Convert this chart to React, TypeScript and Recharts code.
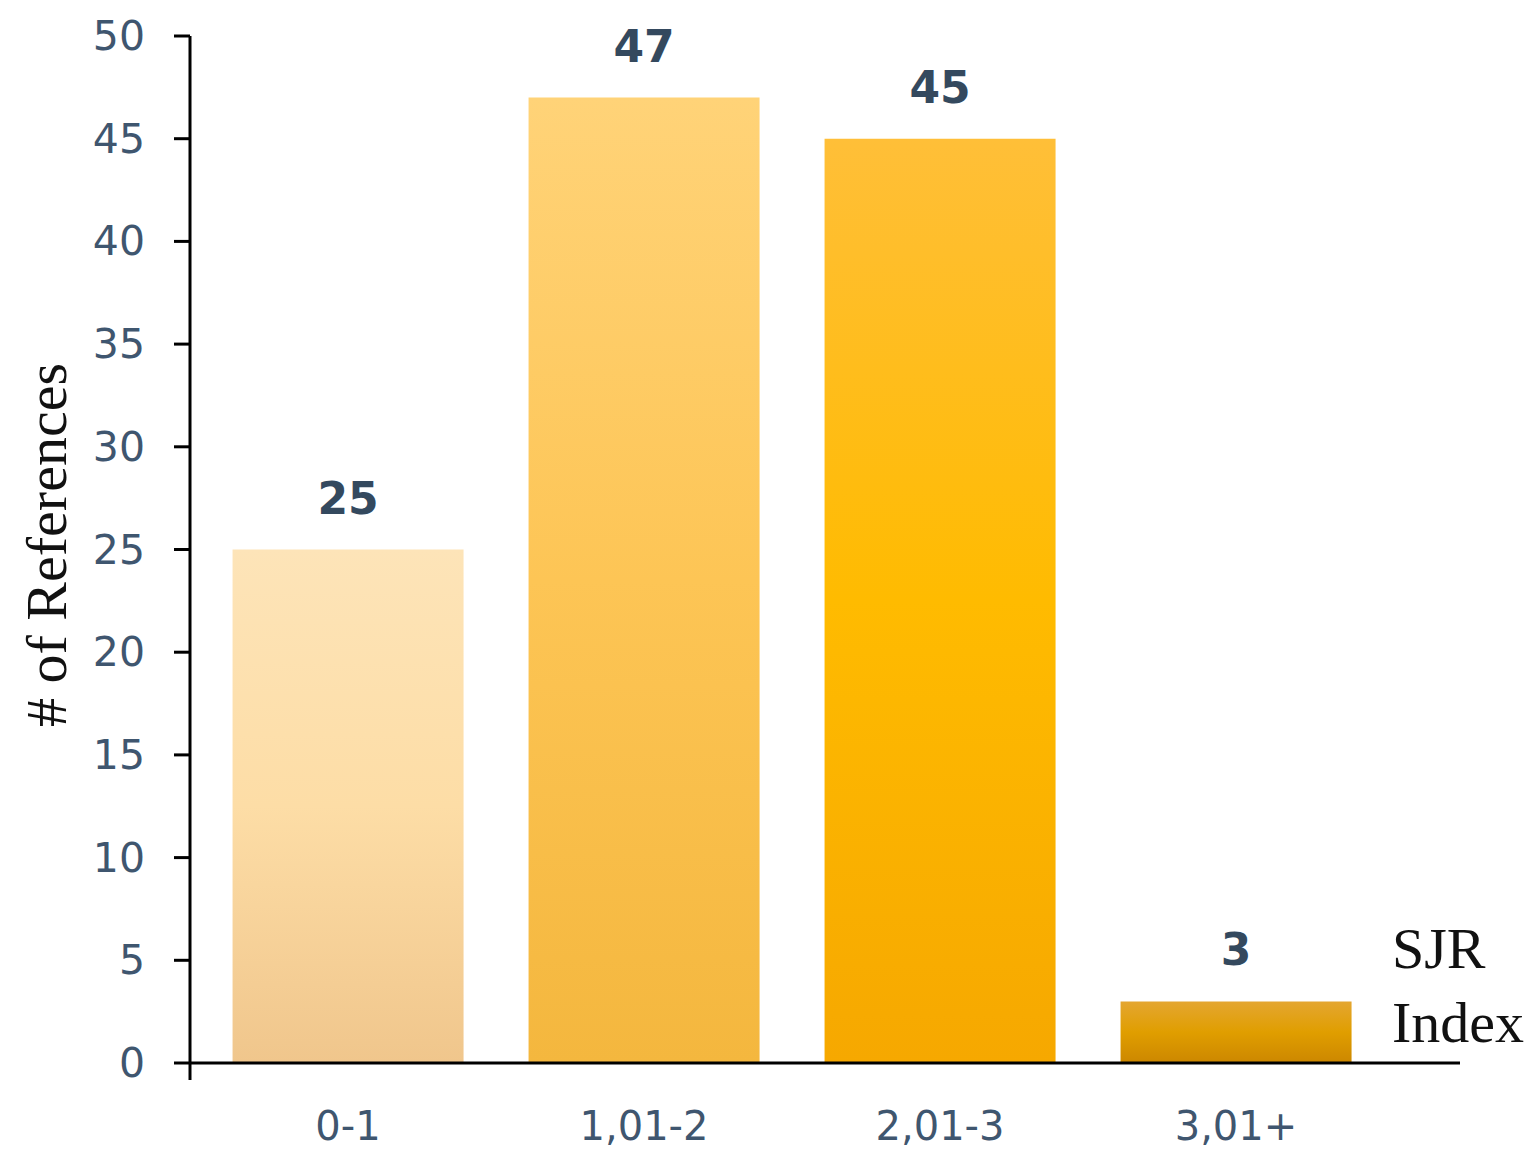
import { BarChart, Bar, XAxis, YAxis, Cell, LabelList } from 'recharts';

const categories = ['0-1', '1,01-2', '2,01-3', '3,01+'];
const references = [25, 47, 45, 3];
const yTicks = [0, 5, 10, 15, 20, 25, 30, 35, 40, 45, 50];

const data = categories.map((sjr, i) => ({ sjr, refs: references[i] }));

// top / middle / bottom stops for each bar
const gradients = [
  ['#FDE4B8', '#FDDDA6', '#F0C68C'],
  ['#FFD378', '#FDC555', '#F4B73E'],
  ['#FFBF38', '#FFBB00', '#F6A800'],
  ['#E4A631', '#E09E00', '#CC8700'],
];

const tickColor = '#3F566F';
const labelColor = '#34495E';

const YTick = (props: any) => {
  const { x, y, payload } = props;
  return (
    <g>
      {payload.value === 0 && (
        <line x1={x + 45} x2={x + 45} y1={y} y2={y + 17} stroke="#000" strokeWidth={3} />
      )}
      <text x={x} y={y} dy={14} textAnchor="end" fill={tickColor} fontSize={41} fontFamily="DejaVu Sans">
        {payload.value}
      </text>
    </g>
  );
};

const YTitle = () => {
  const cx = 66;
  const cy = 545;
  return (
    <text
      x={cx}
      y={cy}
      transform={`rotate(-90, ${cx}, ${cy})`}
      textAnchor="middle"
      fontFamily="Liberation Serif"
      fontSize={58}
      fill="#111"
    >
      # of References
    </text>
  );
};

const XTitle = (props: any) => {
  const vb = props.viewBox;
  const x = vb.x + vb.width - 68;
  return (
    <text fontFamily="Liberation Serif" fontSize={58} fill="#111">
      <tspan x={x} y={vb.y - 95}>SJR</tspan>
      <tspan x={x} y={vb.y - 21}>Index</tspan>
    </text>
  );
};

const App = () => {
  return (
    <div style={{ position: 'absolute', left: 0, top: 0 }}>
      <BarChart
        width={1528}
        height={1154}
        data={data}
        margin={{ top: 36, right: 68, left: 0, bottom: 0 }}
        barCategoryGap="11%"
      >
        <defs>
          {gradients.map((g, i) => (
            <linearGradient key={i} id={`bar${i}`} x1="0" y1="0" x2="0" y2="1">
              <stop offset="0%" stopColor={g[0]} />
              <stop offset="50%" stopColor={g[1]} />
              <stop offset="100%" stopColor={g[2]} />
            </linearGradient>
          ))}
        </defs>
        <XAxis
          dataKey="sjr"
          height={91}
          padding={{ left: 10, right: 76 }}
          axisLine={{ stroke: '#000', strokeWidth: 3 }}
          tickLine={false}
          tickSize={0}
          tickMargin={49}
          tick={{ fill: tickColor, fontSize: 40, fontFamily: 'DejaVu Sans' }}
          label={<XTitle />}
        />
        <YAxis
          width={190}
          domain={[0, 50]}
          ticks={yTicks}
          interval={0}
          axisLine={{ stroke: '#000', strokeWidth: 3 }}
          tickLine={{ stroke: '#000', strokeWidth: 3 }}
          tickSize={16}
          tickMargin={29}
          tick={<YTick />}
          label={<YTitle />}
        />
        <Bar dataKey="refs" isAnimationActive={false}>
          {data.map((d, i) => (
            <Cell key={d.sjr} fill={`url(#bar${i})`} />
          ))}
          <LabelList
            dataKey="refs"
            position="top"
            offset={36}
            fill={labelColor}
            fontSize={44}
            fontWeight="bold"
            fontFamily="DejaVu Sans"
          />
        </Bar>
      </BarChart>
    </div>
  );
};

export default App;
